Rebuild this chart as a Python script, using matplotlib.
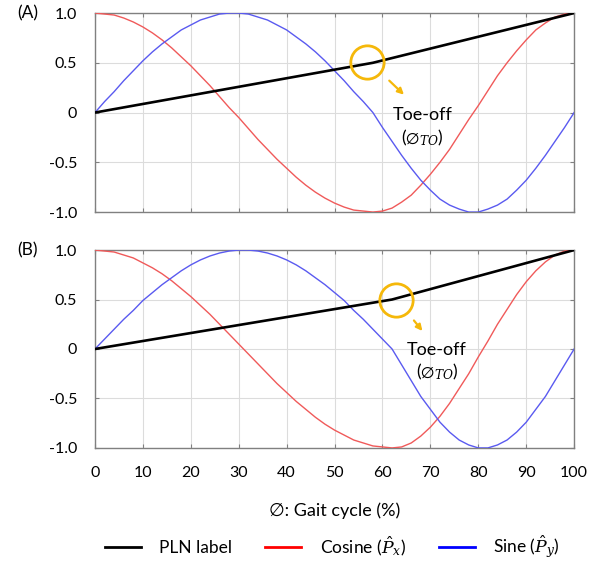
import numpy as np
import matplotlib
matplotlib.use("Agg")
import matplotlib.pyplot as plt
from matplotlib.lines import Line2D

plt.rcParams['font.family'] = ['Lato', 'DejaVu Sans']
plt.rcParams['mathtext.fontset'] = 'dejavuserif'

###############################################################################
# Data (gait cycle in %, every 2 %)
###############################################################################
gait = np.arange(0, 101, 2)

# (A) toe-off near 58 %
pln_x_a = [0, 58, 100]
pln_y_a = [0.0, 0.5, 1.0]
cos_a = [1.00, 0.99, 0.98, 0.95, 0.91, 0.86, 0.80, 0.73, 0.65, 0.56, 0.47,
         0.37, 0.27, 0.16, 0.05, -0.05, -0.16, -0.27, -0.37, -0.47, -0.56,
         -0.65, -0.73, -0.80, -0.86, -0.91, -0.95, -0.98, -0.99, -1.00,
         -0.99, -0.96, -0.90, -0.83, -0.73, -0.62, -0.50, -0.37, -0.22, -0.07,
         0.07, 0.22, 0.37, 0.50, 0.62, 0.73, 0.83, 0.90, 0.96, 0.99, 1.00]
sin_a = [0.00, 0.11, 0.21, 0.32, 0.42, 0.52, 0.61, 0.69, 0.76, 0.83, 0.88,
         0.93, 0.96, 0.99, 1.00, 1.00, 0.99, 0.96, 0.93, 0.88, 0.83,
         0.76, 0.69, 0.61, 0.52, 0.42, 0.32, 0.21, 0.11, 0.00,
         -0.15, -0.29, -0.43, -0.56, -0.68, -0.78, -0.87, -0.93, -0.97, -1.00,
         -1.00, -0.97, -0.93, -0.87, -0.78, -0.68, -0.56, -0.43, -0.29, -0.15, 0.00]

# (B) toe-off near 62 %
pln_x_b = [0, 62, 100]
pln_y_b = [0.0, 0.5, 1.0]
cos_b = [1.00, 0.99, 0.98, 0.95, 0.92, 0.87, 0.82, 0.76, 0.69, 0.61, 0.53,
         0.44, 0.35, 0.25, 0.15, 0.05, -0.05, -0.15, -0.25, -0.35, -0.44,
         -0.53, -0.61, -0.69, -0.76, -0.82, -0.87, -0.92, -0.95, -0.98,
         -0.99, -1.00,
         -0.99, -0.95, -0.88, -0.79, -0.68, -0.55, -0.40, -0.25, -0.08,
         0.08, 0.25, 0.40, 0.55, 0.68, 0.79, 0.88, 0.95, 0.99, 1.00]
sin_b = [0.00, 0.10, 0.20, 0.30, 0.39, 0.49, 0.57, 0.65, 0.72, 0.79, 0.85,
         0.90, 0.94, 0.97, 0.99, 1.00, 1.00, 0.99, 0.97, 0.94, 0.90,
         0.85, 0.79, 0.72, 0.65, 0.57, 0.49, 0.39, 0.30, 0.20,
         0.10, 0.00,
         -0.16, -0.32, -0.48, -0.61, -0.74, -0.84, -0.92, -0.97, -1.00,
         -1.00, -0.97, -0.92, -0.84, -0.74, -0.61, -0.48, -0.32, -0.16, 0.00]

# toe-off marker positions
to_mark_a = (56.8, 0.51)
to_mark_b = (62.8, 0.50)

# annotation offsets from the circle: arrow start, arrow end, text
offs_a = ((4.2, -0.17), (8.1, -0.35), (11.5, -0.535))
offs_b = ((3.4, -0.19), (5.9, -0.34), (8.6, -0.51))

panels = [
    ("(A)", pln_x_a, pln_y_a, cos_a, sin_a, to_mark_a, offs_a),
    ("(B)", pln_x_b, pln_y_b, cos_b, sin_b, to_mark_b, offs_b),
]
#------------------------------------------------------------------------------

orange = '#F5B80A'
fig = plt.figure(figsize=(6.05, 5.67), dpi=100)
axes = [fig.add_axes([0.157, 0.626, 0.792, 0.351]),
        fig.add_axes([0.157, 0.210, 0.792, 0.349])]

for ax, (tag, px, py, cs, sn, mark, offs) in zip(axes, panels):
    ax.plot(gait, cs, color='#F05A5A', lw=1.0, zorder=3)
    ax.plot(gait, sn, color='#5A5AF0', lw=1.0, zorder=3)
    ax.plot(px, py, color='black', lw=1.9, zorder=4)

    ax.set_xlim(0, 100)
    ax.set_ylim(-1, 1)
    ax.set_xticks(np.arange(0, 101, 10))
    ax.set_yticks([-1, -0.5, 0, 0.5, 1])
    ax.set_yticklabels(['-1.0', '-0.5', '0', '0.5', '1.0'])
    ax.grid(True, color='#dcdcdc', lw=0.8)
    ax.set_axisbelow(True)
    ax.tick_params(direction='in', length=3, color='#808080', top=True,
                   right=True, labelsize=11.5)
    ax.tick_params(axis='y', pad=13)
    ax.tick_params(axis='x', pad=13)
    for s in ax.spines.values():
        s.set_color('#808080')
        s.set_linewidth(1.0)

    ax.text(-0.163, 1.0, tag, transform=ax.transAxes, fontsize=12.5,
            ha='left', va='center')

    # toe-off circle + arrow + text
    (ax0, ay0), (ax1, ay1), (tx, ty) = offs
    ax.plot(*mark, 'o', ms=24, mfc='none', mec=orange, mew=2.0, zorder=5)
    ax.annotate('', xy=(mark[0] + ax1, mark[1] + ay1),
                xytext=(mark[0] + ax0, mark[1] + ay0),
                arrowprops=dict(arrowstyle='-|>', color=orange, lw=1.6,
                                mutation_scale=9), zorder=5)
    ax.text(mark[0] + tx, mark[1] + ty, 'Toe-off', fontsize=13,
            ha='center', va='center')
    ax.text(mark[0] + tx, mark[1] + ty - 0.225, r'($\emptyset_{TO}$)',
            fontsize=12.5, ha='center', va='center')

axes[0].tick_params(labelbottom=False)
axes[1].set_xlabel('\u2205: Gait cycle (%)', fontsize=13, labelpad=16)

handles = [Line2D([], [], color='black', lw=2),
           Line2D([], [], color='red', lw=2),
           Line2D([], [], color='blue', lw=2)]
labels = ['PLN label', r'Cosine ($\hat{P}_x$)', r'Sine ($\hat{P}_y$)']
fig.legend(handles, labels, loc='center', bbox_to_anchor=(0.549, 0.035), ncol=3,
           frameon=False, fontsize=12.5, handlelength=2.1, columnspacing=1.9,
           handletextpad=1.04)

plt.savefig('out.png', dpi=100)
